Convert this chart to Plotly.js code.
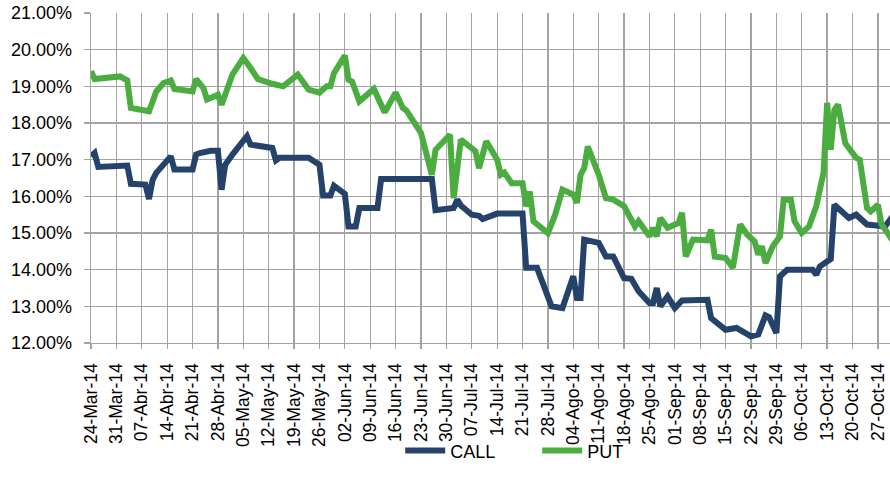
<!DOCTYPE html>
<html>
<head>
<meta charset="utf-8">
<script src="https://cdn.plot.ly/plotly-3.0.1.min.js"></script>
<style>html,body{margin:0;padding:0;background:#fff}#chart{width:890px;height:490px}</style>
</head>
<body>
<div id="chart"></div>
<script>
const callDates = ["2014-03-24","2014-03-25","2014-03-26","2014-04-01","2014-04-03","2014-04-04","2014-04-08","2014-04-09","2014-04-10","2014-04-11","2014-04-15","2014-04-16","2014-04-21","2014-04-22","2014-04-23","2014-04-26","2014-04-28","2014-04-29","2014-04-30","2014-05-02","2014-05-06","2014-05-07","2014-05-13","2014-05-14","2014-05-15","2014-05-23","2014-05-26","2014-05-27","2014-05-29","2014-05-30","2014-06-02","2014-06-03","2014-06-05","2014-06-06","2014-06-11","2014-06-12","2014-06-26","2014-06-27","2014-07-02","2014-07-03","2014-07-04","2014-07-07","2014-07-09","2014-07-10","2014-07-14","2014-07-21","2014-07-22","2014-07-25","2014-07-29","2014-08-01","2014-08-04","2014-08-05","2014-08-06","2014-08-07","2014-08-11","2014-08-13","2014-08-15","2014-08-18","2014-08-20","2014-08-22","2014-08-25","2014-08-26","2014-08-27","2014-08-28","2014-08-30","2014-09-01","2014-09-03","2014-09-10","2014-09-11","2014-09-15","2014-09-18","2014-09-22","2014-09-24","2014-09-26","2014-09-27","2014-09-29","2014-09-30","2014-10-02","2014-10-09","2014-10-10","2014-10-11","2014-10-14","2014-10-15","2014-10-19","2014-10-21","2014-10-24","2014-10-29","2014-10-31"];
const callValues = [17.09,17.18,16.80,16.80,16.84,16.34,16.32,15.93,16.45,16.64,17.09,16.73,16.73,17.14,17.18,17.24,17.24,16.18,16.86,17.14,17.64,17.41,17.32,16.98,17.05,17.05,16.86,16.02,16.02,16.29,16.07,15.18,15.18,15.68,15.68,16.47,16.47,15.62,15.68,15.91,15.75,15.50,15.47,15.38,15.53,15.53,14.05,14.05,13.00,12.95,13.82,13.23,13.23,14.82,14.73,14.36,14.36,13.77,13.75,13.41,13.09,13.09,13.50,13.00,13.27,12.95,13.16,13.18,12.68,12.36,12.41,12.18,12.23,12.75,12.70,12.27,13.82,14.00,14.00,13.86,14.09,14.29,15.77,15.41,15.50,15.23,15.18,15.45];

const putDates = ["2014-03-24","2014-03-25","2014-04-01","2014-04-03","2014-04-04","2014-04-08","2014-04-09","2014-04-11","2014-04-13","2014-04-15","2014-04-16","2014-04-21","2014-04-22","2014-04-24","2014-04-25","2014-04-28","2014-04-29","2014-05-02","2014-05-05","2014-05-07","2014-05-09","2014-05-13","2014-05-15","2014-05-16","2014-05-20","2014-05-23","2014-05-26","2014-05-28","2014-05-29","2014-05-30","2014-06-02","2014-06-03","2014-06-04","2014-06-06","2014-06-10","2014-06-13","2014-06-16","2014-06-18","2014-06-19","2014-06-23","2014-06-26","2014-06-27","2014-07-01","2014-07-02","2014-07-04","2014-07-08","2014-07-09","2014-07-11","2014-07-14","2014-07-15","2014-07-16","2014-07-18","2014-07-21","2014-07-22","2014-07-23","2014-07-24","2014-07-28","2014-07-30","2014-08-01","2014-08-04","2014-08-05","2014-08-06","2014-08-07","2014-08-08","2014-08-11","2014-08-13","2014-08-15","2014-08-18","2014-08-21","2014-08-22","2014-08-25","2014-08-26","2014-08-27","2014-08-28","2014-08-30","2014-09-02","2014-09-03","2014-09-04","2014-09-06","2014-09-09","2014-09-10","2014-09-11","2014-09-12","2014-09-15","2014-09-17","2014-09-19","2014-09-21","2014-09-23","2014-09-24","2014-09-25","2014-09-26","2014-09-28","2014-09-30","2014-10-01","2014-10-03","2014-10-04","2014-10-06","2014-10-08","2014-10-10","2014-10-12","2014-10-13","2014-10-14","2014-10-15","2014-10-16","2014-10-18","2014-10-21","2014-10-22","2014-10-24","2014-10-25","2014-10-27","2014-10-28","2014-10-30","2014-10-31"];
const putValues = [19.41,19.20,19.27,19.16,18.41,18.36,18.32,18.86,19.09,19.16,18.93,18.86,19.20,18.95,18.64,18.77,18.50,19.32,19.77,19.50,19.20,19.07,19.04,19.00,19.32,18.91,18.83,19.00,19.00,19.36,19.84,19.18,19.13,18.59,18.93,18.29,18.83,18.41,18.34,17.73,16.59,17.27,17.68,15.95,17.55,17.23,16.77,17.50,17.00,16.59,16.65,16.36,16.36,15.73,16.13,15.32,15.00,15.50,16.18,16.05,15.82,16.59,16.77,17.36,16.59,15.95,15.91,15.73,15.18,15.32,14.91,15.14,14.91,15.41,15.14,15.27,15.55,14.36,14.82,14.82,14.80,15.09,14.36,14.32,14.05,15.23,14.95,14.77,14.41,14.64,14.18,14.64,14.91,15.91,15.91,15.32,15.00,15.18,15.73,16.64,18.55,17.27,18.36,18.50,17.45,17.05,17.00,15.68,15.59,15.77,15.23,14.95,14.80];

const tickDates = ["2014-03-24","2014-03-31","2014-04-07","2014-04-14","2014-04-21","2014-04-28","2014-05-05","2014-05-12","2014-05-19","2014-05-26","2014-06-02","2014-06-09","2014-06-16","2014-06-23","2014-06-30","2014-07-07","2014-07-14","2014-07-21","2014-07-28","2014-08-04","2014-08-11","2014-08-18","2014-08-25","2014-09-01","2014-09-08","2014-09-15","2014-09-22","2014-09-29","2014-10-06","2014-10-13","2014-10-20","2014-10-27"];
const tickLabels = ["24-Mar-14","31-Mar-14","07-Abr-14","14-Abr-14","21-Abr-14","28-Abr-14","05-May-14","12-May-14","19-May-14","26-May-14","02-Jun-14","09-Jun-14","16-Jun-14","23-Jun-14","30-Jun-14","07-Jul-14","14-Jul-14","21-Jul-14","28-Jul-14","04-Ago-14","11-Ago-14","18-Ago-14","25-Ago-14","01-Sep-14","08-Sep-14","15-Sep-14","22-Sep-14","29-Sep-14","06-Oct-14","13-Oct-14","20-Oct-14","27-Oct-14"];

const seriesNames = ["CALL", "PUT"];

const traces = [
  {x: callDates, y: callValues, name: seriesNames[0], type: "scatter", mode: "lines",
   line: {color: "#25426a", width: 6, shape: "linear"}},
  {x: putDates, y: putValues, name: seriesNames[1], type: "scatter", mode: "lines",
   line: {color: "#4bad3f", width: 6, shape: "linear"}}
];

const font = {family: "Liberation Sans, Arial, sans-serif", size: 18, color: "#000"};
const xFont = {family: "Liberation Sans, Arial, sans-serif", size: 17.5, color: "#000"};

const layout = {
  width: 890, height: 490,
  margin: {l: 91, r: 0, t: 13, b: 147, pad: 0},
  paper_bgcolor: "#fff", plot_bgcolor: "#fff",
  font: font,
  showlegend: true,
  legend: {orientation: "h", x: 0.387, xanchor: "left", y: -0.327, yanchor: "middle",
           font: font, bgcolor: "rgba(0,0,0,0)", traceorder: "normal",
           itemwidth: 40, entrywidth: 82, entrywidthmode: "pixels"},
  xaxis: {
    type: "date",
    range: ["2014-03-24", "2014-10-30 08:00"],
    tickmode: "array", tickvals: tickDates, ticktext: tickLabels,
    tickangle: -90,
    showgrid: true, gridcolor: "#a3a3a3", gridwidth: 1.3,
    showline: true, linecolor: "#a3a3a3", linewidth: 1.3,
    ticks: "outside", ticklen: 5, tickcolor: "#a3a3a3", tickwidth: 1.3,
    tickfont: xFont, ticklabelstandoff: 7,
    zeroline: false, fixedrange: true
  },
  yaxis: {
    range: [12, 21], dtick: 1, tick0: 12,
    tickformat: ".2f", ticksuffix: "%",
    showgrid: true, gridcolor: "#a3a3a3", gridwidth: 1.3,
    showline: true, linecolor: "#a3a3a3", linewidth: 1.3,
    ticks: "outside", ticklen: 6, tickcolor: "#a3a3a3", tickwidth: 1.3,
    tickfont: font, ticklabelstandoff: 8,
    zeroline: false, fixedrange: true
  }
};

Plotly.newPlot("chart", traces, layout, {displayModeBar: false, staticPlot: true});
</script>
</body>
</html>
